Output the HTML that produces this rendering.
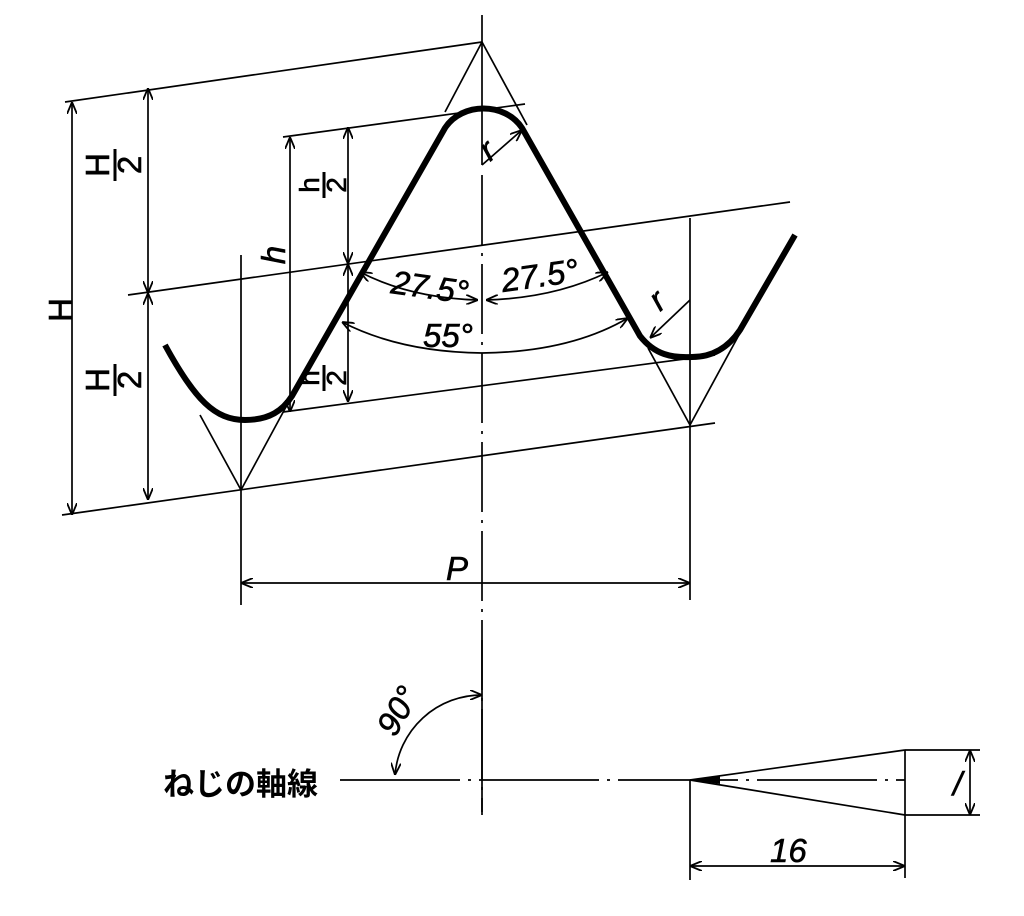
<!DOCTYPE html>
<html><head><meta charset="utf-8"><style>
html,body{margin:0;padding:0;background:#fff;}
svg{display:block;}
text{font-family:"Liberation Sans","Noto Sans CJK JP",sans-serif;fill:#000;}
</style></head><body>
<svg width="1024" height="916" viewBox="0 0 1024 916" xmlns="http://www.w3.org/2000/svg">
<defs>
<marker id="a" viewBox="0 0 12 10" refX="12" refY="5" markerWidth="12" markerHeight="10" markerUnits="userSpaceOnUse" orient="auto-start-reverse">
<path d="M0,0 L12,5 L0,10" fill="none" stroke="#000" stroke-width="1.8"/>
</marker>
</defs>
<g stroke="#000" stroke-width="1.7" fill="none">
<line x1="482" y1="15" x2="482" y2="165"/>
<line x1="482" y1="175" x2="482" y2="815" stroke-dasharray="70,8,3,8"/>
<line x1="65" y1="102" x2="482" y2="42"/>
<line x1="283" y1="137" x2="525" y2="104"/>
<line x1="128" y1="295" x2="790" y2="202"/>
<line x1="283" y1="412" x2="715" y2="355"/>
<line x1="62" y1="515" x2="715" y2="423"/>
<line x1="482" y1="42" x2="445" y2="112"/>
<line x1="482" y1="42" x2="527" y2="125"/>
<line x1="241" y1="490" x2="287" y2="405"/>
<line x1="690" y1="425" x2="648" y2="348"/>
<line x1="241" y1="490" x2="200" y2="415"/>
<line x1="690" y1="425" x2="740" y2="333"/>
<line x1="241" y1="255" x2="241" y2="605"/>
<line x1="690" y1="218" x2="690" y2="600"/>
<line x1="72" y1="102" x2="72" y2="515" marker-start="url(#a)" marker-end="url(#a)"/>
<line x1="148" y1="88" x2="148" y2="293" marker-start="url(#a)" marker-end="url(#a)"/>
<line x1="148" y1="293" x2="148" y2="500" marker-start="url(#a)" marker-end="url(#a)"/>
<line x1="290" y1="137" x2="290" y2="412" marker-start="url(#a)" marker-end="url(#a)"/>
<line x1="348" y1="127" x2="348" y2="264" marker-start="url(#a)" marker-end="url(#a)"/>
<line x1="348" y1="264" x2="348" y2="402" marker-start="url(#a)" marker-end="url(#a)"/>
<line x1="241" y1="583" x2="690" y2="583" marker-start="url(#a)" marker-end="url(#a)"/>
<path d="M360,272 Q410,298 478,300" marker-start="url(#a)" marker-end="url(#a)"/>
<path d="M486,300 Q555,298 608,272" marker-start="url(#a)" marker-end="url(#a)"/>
<path d="M342,322 Q400,352 482,353 Q570,352 628,318" marker-start="url(#a)" marker-end="url(#a)"/>
<polyline points="482,165 522,130" marker-end="url(#a)"/>
<polyline points="690,300 650,338" marker-end="url(#a)"/>
<line x1="482" y1="640" x2="482" y2="812"/>
<line x1="340" y1="780" x2="905" y2="780" stroke-dasharray="120,8,3,8"/>
<path d="M395,775 A87,87 0 0 1 482,695" marker-start="url(#a)" marker-end="url(#a)"/>
<line x1="690" y1="780" x2="905" y2="750"/>
<line x1="690" y1="780" x2="905" y2="815"/>
<line x1="905" y1="750" x2="905" y2="878"/>
<line x1="905" y1="750" x2="980" y2="750"/>
<line x1="905" y1="815" x2="980" y2="815"/>
<line x1="970" y1="750" x2="970" y2="815" marker-start="url(#a)" marker-end="url(#a)"/>
<line x1="690" y1="780" x2="690" y2="880"/>
<line x1="690" y1="866" x2="905" y2="866" marker-start="url(#a)" marker-end="url(#a)"/>
</g>
<path d="M690,780 L720,776 L720,784 Z" fill="#000"/>
<path d="M165,345 C195,400 215,420 245,420 C270,420 283,410 292,396 L445,128 C462,102 505,102 522,128 L640,336 C655,355 672,358 692,357 C715,357 730,345 740,330 L795,235" fill="none" stroke="#000" stroke-width="6" stroke-linejoin="round"/>
<g font-size="33" stroke="#000" stroke-width="0.6">
<text transform="translate(72,310) rotate(-90)" text-anchor="middle">H</text>
<g transform="translate(115,165) rotate(-90)">
<text x="0" y="-6" text-anchor="middle">H</text><line x1="-16" y1="0" x2="16" y2="0" stroke="#000" stroke-width="3"/><text x="0" y="26" text-anchor="middle">2</text></g>
<g transform="translate(115,380) rotate(-90)">
<text x="0" y="-6" text-anchor="middle">H</text><line x1="-16" y1="0" x2="16" y2="0" stroke="#000" stroke-width="3"/><text x="0" y="26" text-anchor="middle">2</text></g>
<text transform="translate(285,255) rotate(-90)" text-anchor="middle" font-style="italic">h</text>
<g transform="translate(324,185) rotate(-90)" font-size="28">
<text x="0" y="-5" text-anchor="middle">h</text><line x1="-13" y1="0" x2="13" y2="0" stroke="#000" stroke-width="3"/><text x="0" y="22" text-anchor="middle">2</text></g>
<g transform="translate(324,378) rotate(-90)" font-size="28">
<text x="0" y="-5" text-anchor="middle">h</text><line x1="-13" y1="0" x2="13" y2="0" stroke="#000" stroke-width="3"/><text x="0" y="22" text-anchor="middle">2</text></g>
<text transform="translate(390,293) rotate(8)" font-style="italic">27.5°</text>
<text transform="translate(503,292) rotate(-8)" font-style="italic">27.5°</text>
<text x="423" y="347" font-style="italic">55°</text>
<text transform="translate(490,162) rotate(-40)" font-style="italic">r</text>
<text transform="translate(660,312) rotate(-40)" font-style="italic">r</text>
<text x="446" y="580" font-style="italic">P</text>
<text transform="translate(395,738) rotate(-60)" font-style="italic">90°</text>
<text x="770" y="862" font-style="italic">16</text>
<text x="953" y="795" font-style="italic">/</text>
</g>
<text x="163" y="795" font-size="31" font-weight="bold" style="font-family:'Noto Sans CJK JP',sans-serif">ねじの軸線</text>
</svg>
</body></html>
